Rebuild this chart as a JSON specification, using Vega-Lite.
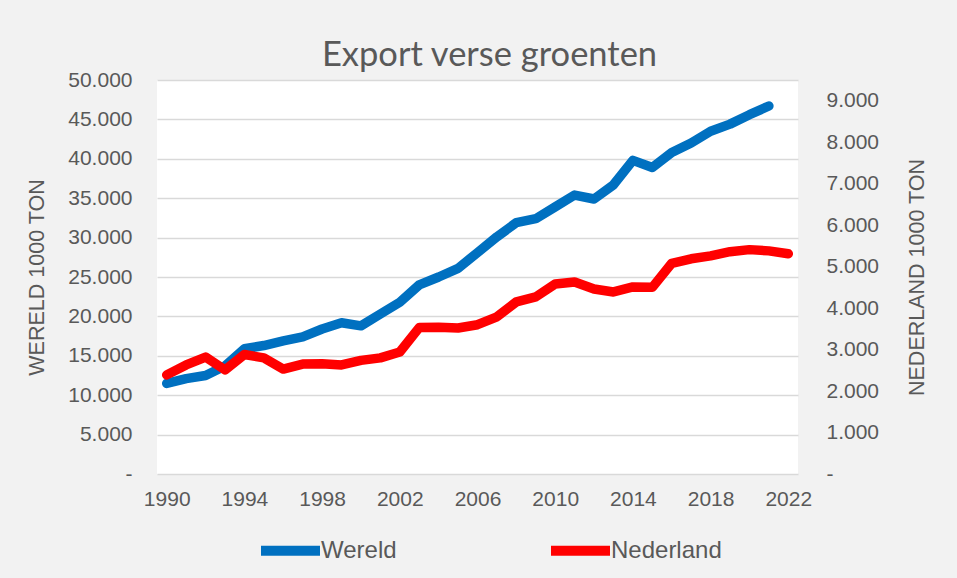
{
  "$schema": "https://vega.github.io/schema/vega-lite/v6.json",
  "autosize": "none",
  "width": 641,
  "height": 394,
  "padding": {"left": 157, "top": 80, "right": 159, "bottom": 104},
  "background": "#f2f2f2",
  "config": {
    "locale": {"number": {"decimal": ",", "thousands": ".", "grouping": [3], "currency": ["€", ""]}},
    "view": {"fill": "white", "stroke": null},
    "font": "Liberation Sans",
    "axis": {"labelColor": "#595959", "titleColor": "#595959", "labelFont": "Liberation Sans", "titleFont": "Liberation Sans", "labelFontSize": 21, "titleFontSize": 21.5, "titleFontWeight": "normal"}
  },
  "title": {"text": "Export verse groenten", "font": "Lato", "fontSize": 34.5, "fontWeight": "normal", "color": "#595959", "anchor": "middle", "frame": "group", "baseline": "alphabetic", "offset": 15, "dx": 12, "dy": 46},
  "data": {"values": [
    {"jaar": 1990, "reeks": "Wereld", "ton": 11500},
    {"jaar": 1991, "reeks": "Wereld", "ton": 12100},
    {"jaar": 1992, "reeks": "Wereld", "ton": 12500},
    {"jaar": 1993, "reeks": "Wereld", "ton": 13700},
    {"jaar": 1994, "reeks": "Wereld", "ton": 15900},
    {"jaar": 1995, "reeks": "Wereld", "ton": 16300},
    {"jaar": 1996, "reeks": "Wereld", "ton": 16900},
    {"jaar": 1997, "reeks": "Wereld", "ton": 17400},
    {"jaar": 1998, "reeks": "Wereld", "ton": 18400},
    {"jaar": 1999, "reeks": "Wereld", "ton": 19200},
    {"jaar": 2000, "reeks": "Wereld", "ton": 18800},
    {"jaar": 2001, "reeks": "Wereld", "ton": 20300},
    {"jaar": 2002, "reeks": "Wereld", "ton": 21800},
    {"jaar": 2003, "reeks": "Wereld", "ton": 24000},
    {"jaar": 2004, "reeks": "Wereld", "ton": 25000},
    {"jaar": 2005, "reeks": "Wereld", "ton": 26100},
    {"jaar": 2006, "reeks": "Wereld", "ton": 28100},
    {"jaar": 2007, "reeks": "Wereld", "ton": 30100},
    {"jaar": 2008, "reeks": "Wereld", "ton": 31900},
    {"jaar": 2009, "reeks": "Wereld", "ton": 32400},
    {"jaar": 2010, "reeks": "Wereld", "ton": 33900},
    {"jaar": 2011, "reeks": "Wereld", "ton": 35400},
    {"jaar": 2012, "reeks": "Wereld", "ton": 34900},
    {"jaar": 2013, "reeks": "Wereld", "ton": 36700},
    {"jaar": 2014, "reeks": "Wereld", "ton": 39800},
    {"jaar": 2015, "reeks": "Wereld", "ton": 38900},
    {"jaar": 2016, "reeks": "Wereld", "ton": 40800},
    {"jaar": 2017, "reeks": "Wereld", "ton": 42000},
    {"jaar": 2018, "reeks": "Wereld", "ton": 43500},
    {"jaar": 2019, "reeks": "Wereld", "ton": 44400},
    {"jaar": 2020, "reeks": "Wereld", "ton": 45600},
    {"jaar": 2021, "reeks": "Wereld", "ton": 46700},
    {"jaar": 1990, "reeks": "Nederland", "ton": 2390},
    {"jaar": 1991, "reeks": "Nederland", "ton": 2630},
    {"jaar": 1992, "reeks": "Nederland", "ton": 2820},
    {"jaar": 1993, "reeks": "Nederland", "ton": 2510},
    {"jaar": 1994, "reeks": "Nederland", "ton": 2880},
    {"jaar": 1995, "reeks": "Nederland", "ton": 2800},
    {"jaar": 1996, "reeks": "Nederland", "ton": 2530},
    {"jaar": 1997, "reeks": "Nederland", "ton": 2650},
    {"jaar": 1998, "reeks": "Nederland", "ton": 2660},
    {"jaar": 1999, "reeks": "Nederland", "ton": 2630},
    {"jaar": 2000, "reeks": "Nederland", "ton": 2740},
    {"jaar": 2001, "reeks": "Nederland", "ton": 2800},
    {"jaar": 2002, "reeks": "Nederland", "ton": 2940},
    {"jaar": 2003, "reeks": "Nederland", "ton": 3530},
    {"jaar": 2004, "reeks": "Nederland", "ton": 3540},
    {"jaar": 2005, "reeks": "Nederland", "ton": 3520},
    {"jaar": 2006, "reeks": "Nederland", "ton": 3600},
    {"jaar": 2007, "reeks": "Nederland", "ton": 3790},
    {"jaar": 2008, "reeks": "Nederland", "ton": 4150},
    {"jaar": 2009, "reeks": "Nederland", "ton": 4270},
    {"jaar": 2010, "reeks": "Nederland", "ton": 4580},
    {"jaar": 2011, "reeks": "Nederland", "ton": 4630},
    {"jaar": 2012, "reeks": "Nederland", "ton": 4460},
    {"jaar": 2013, "reeks": "Nederland", "ton": 4390},
    {"jaar": 2014, "reeks": "Nederland", "ton": 4510},
    {"jaar": 2015, "reeks": "Nederland", "ton": 4500},
    {"jaar": 2016, "reeks": "Nederland", "ton": 5080},
    {"jaar": 2017, "reeks": "Nederland", "ton": 5190},
    {"jaar": 2018, "reeks": "Nederland", "ton": 5260},
    {"jaar": 2019, "reeks": "Nederland", "ton": 5360},
    {"jaar": 2020, "reeks": "Nederland", "ton": 5410},
    {"jaar": 2021, "reeks": "Nederland", "ton": 5380},
    {"jaar": 2022, "reeks": "Nederland", "ton": 5310}
  ]},
  "encoding": {
    "x": {"field": "jaar", "type": "quantitative", "scale": {"domain": [1989.5, 2022.5], "nice": false, "zero": false},
      "axis": {"title": null, "values": [1990, 1994, 1998, 2002, 2006, 2010, 2014, 2018, 2022], "format": "d", "grid": false, "ticks": false, "domain": false, "labelPadding": 14, "labelFlush": false}},
    "color": {"field": "reeks", "type": "nominal", "scale": {"domain": ["Wereld", "Nederland"], "range": ["#0070c0", "#ff0000"]},
      "legend": {"title": null, "orient": "none", "direction": "horizontal", "legendX": 99, "legendY": 436, "symbolType": "stroke", "symbolSize": 3481, "symbolStrokeWidth": 10, "labelFontSize": 24, "labelColor": "#595959", "labelFont": "Liberation Sans", "labelOffset": -4, "columnPadding": 134}}
  },
  "layer": [
    {
      "transform": [{"filter": "datum.reeks == 'Wereld'"}],
      "mark": {"type": "line", "strokeWidth": 9.5, "strokeCap": "round", "strokeJoin": "round"},
      "encoding": {
        "y": {"field": "ton", "type": "quantitative", "scale": {"domain": [0, 50000], "nice": false},
          "axis": {"title": "WERELD 1000 TON", "orient": "left", "values": [0, 5000, 10000, 15000, 20000, 25000, 30000, 35000, 40000, 45000, 50000], "format": ",.0f", "labelExpr": "datum.value == 0 ? '-' : datum.label", "grid": true, "gridColor": "#d9d9d9", "gridWidth": 1.5, "ticks": false, "domain": false, "labelPadding": 25, "titlePadding": 19}}
      }
    },
    {
      "transform": [{"filter": "datum.reeks == 'Nederland'"}],
      "mark": {"type": "line", "strokeWidth": 9.5, "strokeCap": "round", "strokeJoin": "round"},
      "encoding": {
        "y": {"field": "ton", "type": "quantitative", "scale": {"domain": [0, 9500], "nice": false},
          "axis": {"title": "NEDERLAND 1000 TON", "orient": "right", "values": [0, 1000, 2000, 3000, 4000, 5000, 6000, 7000, 8000, 9000], "format": ",.0f", "labelExpr": "datum.value == 0 ? '-' : datum.label", "grid": false, "ticks": false, "domain": false, "labelPadding": 28, "titlePadding": 50, "titleAngle": 270}}
      }
    }
  ],
  "resolve": {"scale": {"y": "independent"}}
}
